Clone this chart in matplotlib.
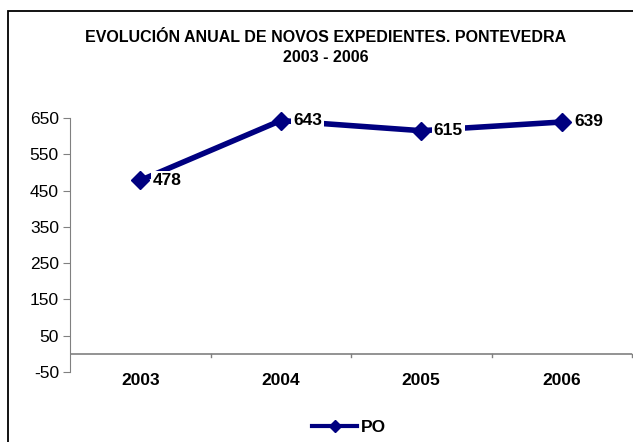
import matplotlib
matplotlib.use("Agg")
import matplotlib.pyplot as plt
from matplotlib.patches import Rectangle
from matplotlib.lines import Line2D

plt.rcParams['font.family'] = ['Liberation Sans', 'DejaVu Sans']
plt.rcParams['axes.unicode_minus'] = False

years = ['2003', '2004', '2005', '2006']
po = [478, 643, 615, 639]
yticks = [-50, 50, 150, 250, 350, 450, 550, 650]
navy = '#000080'

W, H = 633, 442
fig = plt.figure(figsize=(W / 100, H / 100), dpi=100)

# outer frame of the chart
fig.patches.append(Rectangle((8 / W, -0.1), 1.2, (H - 11) / H + 0.1,
                             transform=fig.transFigure, fill=False,
                             edgecolor='black', linewidth=1.3))

ax = fig.add_axes([70 / W, 70 / H, 562 / W, 254 / H])
x = list(range(1, len(years) + 1))
ax.plot(x, po, color=navy, linewidth=4, marker='D', markersize=8.7,
        zorder=3, clip_on=False)
for xi, v in zip(x, po):
    ax.annotate(str(v), (xi, v), xytext=(9, 0), textcoords='offset points',
                ha='left', va='center', fontsize=12.5, fontweight='bold',
                bbox=dict(boxstyle='square,pad=0.12', fc='white', ec='none'),
                zorder=4)

ax.set_xlim(0.5, 4.5)
ax.set_ylim(-50, 650)
ax.set_yticks(yticks)
ax.set_yticklabels([str(t) for t in yticks])
ax.set_xticks(x)
ax.set_xticklabels(years, fontsize=12.5, fontweight='bold')
ax.tick_params(axis='x', which='major', length=0, pad=1)
ax.tick_params(axis='y', length=5, color='#808080', labelsize=12.5, pad=3)

for s in ['top', 'right', 'bottom']:
    ax.spines[s].set_visible(False)
ax.spines['left'].set_color('#808080')
ax.axhline(0, color='#808080', linewidth=1.2, zorder=1)
# category boundary ticks sit on the zero line
for b in [1.5, 2.5, 3.5, 4.5]:
    ax.plot([b, b], [0, -9], color='#808080', linewidth=1, clip_on=False)

fig.text(326 / W, 1 - 37 / H, 'EVOLUCIÓN ANUAL DE NOVOS EXPEDIENTES. PONTEVEDRA',
         ha='center', va='center', fontsize=11.5, fontweight='bold')
fig.text(326 / W, 1 - 58 / H, '2003 - 2006',
         ha='center', va='center', fontsize=11.5, fontweight='bold')

handle = Line2D([], [], color=navy, linewidth=3, marker='D', markersize=6)
fig.legend([handle], ['PO'], loc='center', bbox_to_anchor=(349 / W, 1 - 427 / H),
           frameon=False, prop=dict(size=12.5, weight='bold'),
           handlelength=2.6, handletextpad=0.2)

fig.savefig('out.png', dpi=100)
